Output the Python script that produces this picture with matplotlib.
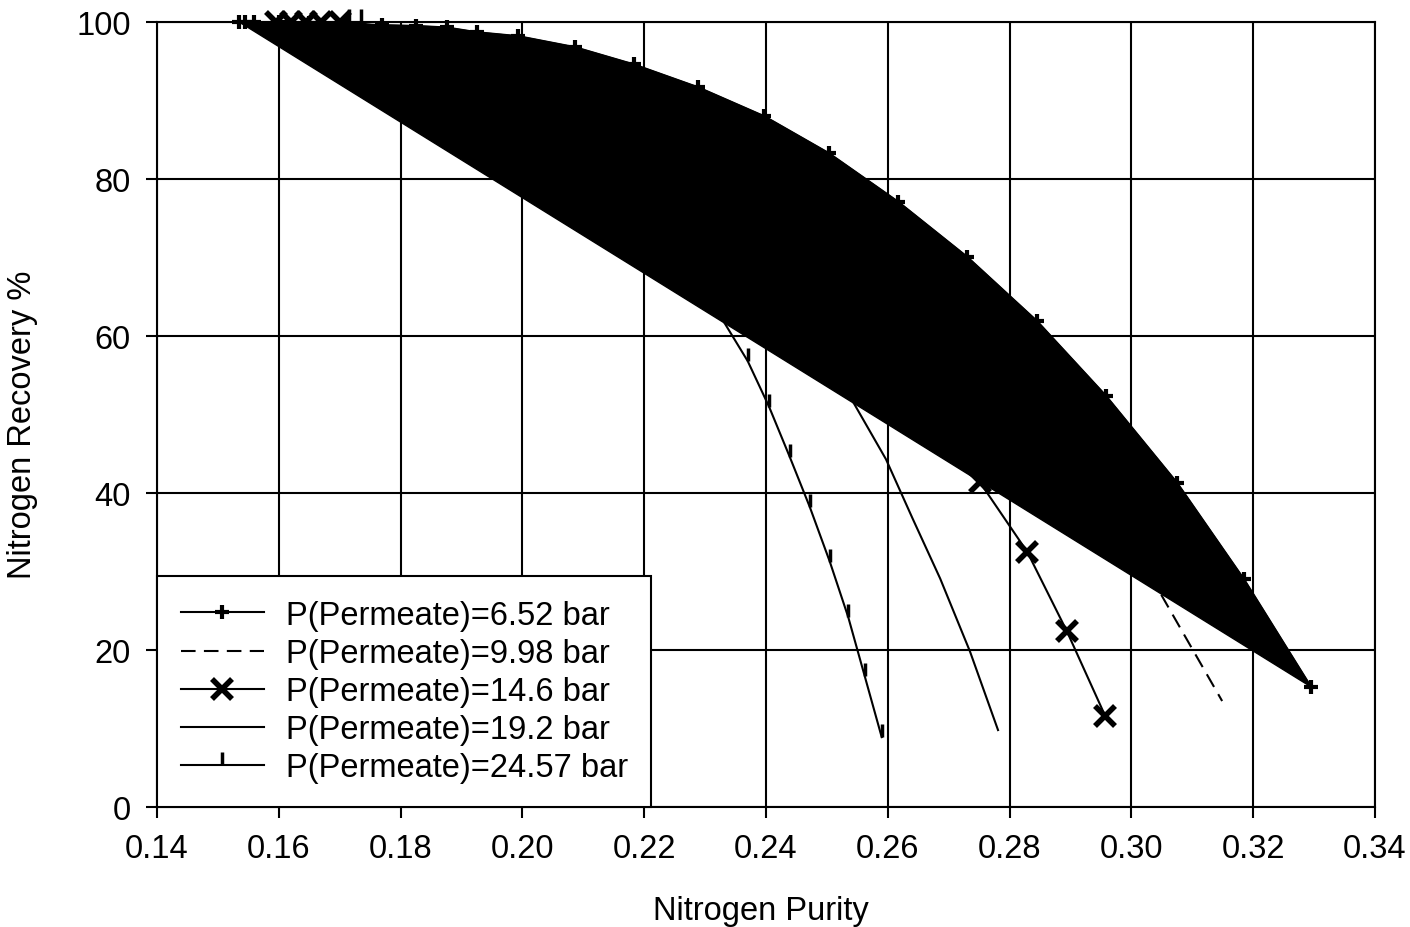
import matplotlib.pyplot as plt
from matplotlib.path import Path

plt.rcParams['font.family'] = ['Liberation Sans', 'DejaVu Sans']

# P(Permeate)=6.52 bar
purity_652 = [0.1535, 0.1545, 0.1560, 0.1600, 0.1650, 0.1710, 0.1770, 0.1825, 0.1876,
              0.1925, 0.1993, 0.2086, 0.2183, 0.2288, 0.2397, 0.2503, 0.2617, 0.2730,
              0.2845, 0.2958, 0.3075, 0.3185, 0.3295]
recovery_652 = [100, 100, 100, 100, 99.9, 99.8, 99.6, 99.5, 99.3,
                98.7, 98.2, 96.8, 94.6, 91.7, 88.0, 83.3, 77.1, 70.1,
                61.9, 52.4, 41.3, 29.0, 15.3]

# P(Permeate)=9.98 bar
purity_998 = [0.1560, 0.1650, 0.1750, 0.1900, 0.2050, 0.2200, 0.2350, 0.2500,
              0.2650, 0.2800, 0.2950, 0.3050, 0.3149]
recovery_998 = [100, 99.9, 99.5, 98.5, 96.0, 92.5, 87.5, 80.5,
                71.0, 59.0, 43.0, 26.9, 13.5]

# P(Permeate)=14.6 bar
purity_146 = [0.1595, 0.1620, 0.1645, 0.1670, 0.1700, 0.1900, 0.2050, 0.2200,
              0.2400, 0.2600, 0.2751, 0.2829, 0.2894, 0.2957]
recovery_146 = [100, 100, 100, 100, 100, 97.0, 94.0, 89.0,
                77.0, 60.0, 41.4, 32.5, 22.4, 11.6]

# P(Permeate)=19.2 bar
purity_192 = [0.1600, 0.1700, 0.1900, 0.2100, 0.2300, 0.2450, 0.2543, 0.2597,
              0.2641, 0.2686, 0.2735, 0.2781]
recovery_192 = [100, 100, 98.5, 94.0, 84.0, 67.0, 51.6, 44.3,
                36.7, 29.1, 19.8, 9.8]

# P(Permeate)=24.57 bar
purity_2457 = [0.1715, 0.1735, 0.1800, 0.1900, 0.2000, 0.2100, 0.2200, 0.2280,
               0.2330, 0.2370, 0.2405, 0.2439, 0.2472, 0.2505, 0.2535, 0.2562, 0.2590]
recovery_2457 = [100, 100, 97.5, 96.0, 93.5, 88.0, 79.0, 69.5,
                 61.9, 56.8, 51.0, 44.6, 38.2, 31.2, 24.2, 16.7, 8.9]

x_ticks = [0.14, 0.16, 0.18, 0.20, 0.22, 0.24, 0.26, 0.28, 0.30, 0.32, 0.34]
y_ticks = [0, 20, 40, 60, 80, 100]

FS = 23.5

# vertical stroke sitting on top of the point
up_tick = Path([(0, 0), (0, 1)], [Path.MOVETO, Path.LINETO])

fig = plt.figure(figsize=(14.1, 9.28), dpi=100)
ax = fig.add_axes([157 / 1410, 1 - 808 / 928, 1218 / 1410, 785 / 928])

ax.set_xlim(0.14, 0.34)
ax.set_ylim(0, 100)
ax.set_xticks(x_ticks)
ax.set_xticklabels(['%.2f' % t for t in x_ticks])
ax.set_yticks(y_ticks)
ax.grid(True, color='black', linewidth=1.5)
ax.set_axisbelow(True)
ax.tick_params(direction='out', length=8, width=1.5, labelsize=FS, pad=11, colors='black')
for s in ax.spines.values():
    s.set_linewidth(1.5)

# the area under the 6.52 bar curve shows as a solid black polygon
ax.fill(purity_652, recovery_652, color='black', zorder=2)

ax.plot(purity_652, recovery_652, color='black', lw=1.5, marker='+', ms=10, mew=3,
        label='P(Permeate)=6.52 bar', zorder=3, clip_on=False)
ax.plot(purity_998, recovery_998, color='black', lw=1.5, dashes=(7, 4),
        label='P(Permeate)=9.98 bar', zorder=3)
ax.plot(purity_146, recovery_146, color='black', lw=1.5, marker='x', ms=14, mew=4,
        label='P(Permeate)=14.6 bar', zorder=3, clip_on=False)
ax.plot(purity_192, recovery_192, color='black', lw=1.5,
        label='P(Permeate)=19.2 bar', zorder=3)
ax.plot(purity_2457, recovery_2457, color='black', lw=1.5, marker=up_tick, ms=19, mew=2.5,
        label='P(Permeate)=24.57 bar', zorder=3, clip_on=False)

ax.set_xlabel('Nitrogen Purity', fontsize=FS)
ax.set_ylabel('Nitrogen Recovery %', fontsize=FS)
ax.xaxis.set_label_coords(0.496, -0.112)
ax.yaxis.set_label_coords(-0.0977, 0.488)

leg = ax.legend(loc='lower left', bbox_to_anchor=(0, 0), borderaxespad=0, fontsize=FS,
                fancybox=False, edgecolor='black', framealpha=1, handlelength=2.55,
                handletextpad=0.67, labelspacing=0.22, borderpad=0.72)
leg.get_frame().set_linewidth(1.5)
leg.set_zorder(5)

fig.savefig('out.png', dpi=100)
